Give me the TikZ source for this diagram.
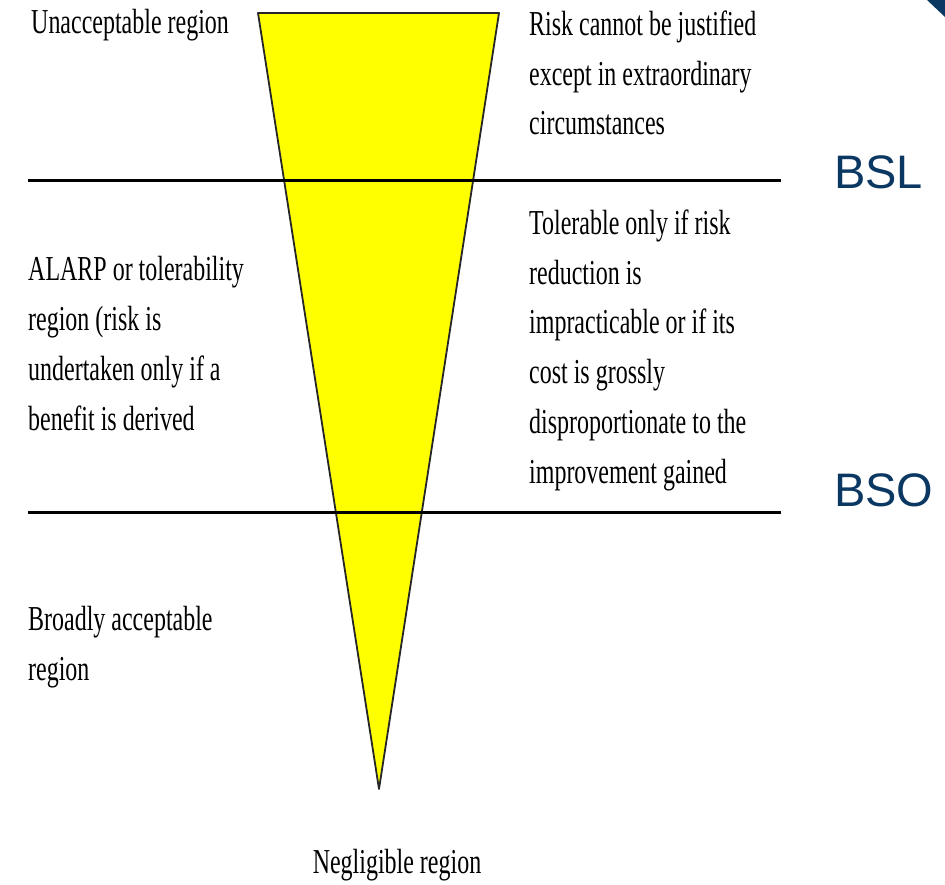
\documentclass[tikz,border=0pt]{standalone}
\usepackage{fontspec}
\usepackage{tikz}
\usetikzlibrary{positioning}
\setmainfont{Liberation Serif}
\newfontfamily\narrowserif[FakeStretch=0.685]{Liberation Serif}
\newfontfamily\bslfont{Liberation Sans}
\definecolor{navy}{RGB}{11,56,98}
\definecolor{funnel}{RGB}{255,255,0}
\newcommand{\tn}{\narrowserif\fontsize{35}{49.7}\selectfont}

\begin{document}
\begin{tikzpicture}[x=1pt,y=-1pt,
	txt/.style={anchor=base west,inner sep=0pt,align=left,font=\tn},
	lvl/.style={anchor=base west,inner sep=0pt,text=navy,font=\bslfont\fontsize{47}{50}\selectfont}]
	\useasboundingbox (0,0) rectangle (945,885);

	% corner mark
	\fill[navy] (927,0) -- (945,0) -- (945,17) -- cycle;

	% funnel
	\coordinate (tl) at (258,13);
	\coordinate (tr) at (499,13);
	\coordinate (tip) at (379,789);
	\filldraw[fill=funnel,draw=black!85,line width=1.8pt,line join=round] (tl) -- (tr) -- (tip) -- cycle;

	% limits
	\coordinate (l1) at (28,181);
	\coordinate (r1) at (781,181);
	\coordinate (l2) at (28,512);
	\coordinate (r2) at (781,512);
	\draw[line width=3pt] (l1) -- (r1);
	\draw[line width=3pt] (l2) -- (r2);

	\node[lvl] (bsl) at (834,189) {BSL};
	\node[lvl] (bso) at (834,506) {BSO};

	% left (base = last line)
	\node[txt] (unacc) at (31,34) {Unacceptable region};
	\node[txt] (alarp) at (28,430) {ALARP or tolerability\\region (risk is\\undertaken only if a\\benefit is derived};
	\node[txt] (broad) at (28,680) {Broadly acceptable\\region};

	% right
	\node[txt] (risk) at (529,135) {Risk cannot be justified\\except in extraordinary\\circumstances};
	\node[txt] (toler) at (529,483) {Tolerable only if risk\\reduction is\\impracticable or if its\\cost is grossly\\disproportionate to the\\improvement gained};

	\node[txt,anchor=base] (negl) at (397,873) {Negligible region};
\end{tikzpicture}
\end{document}
